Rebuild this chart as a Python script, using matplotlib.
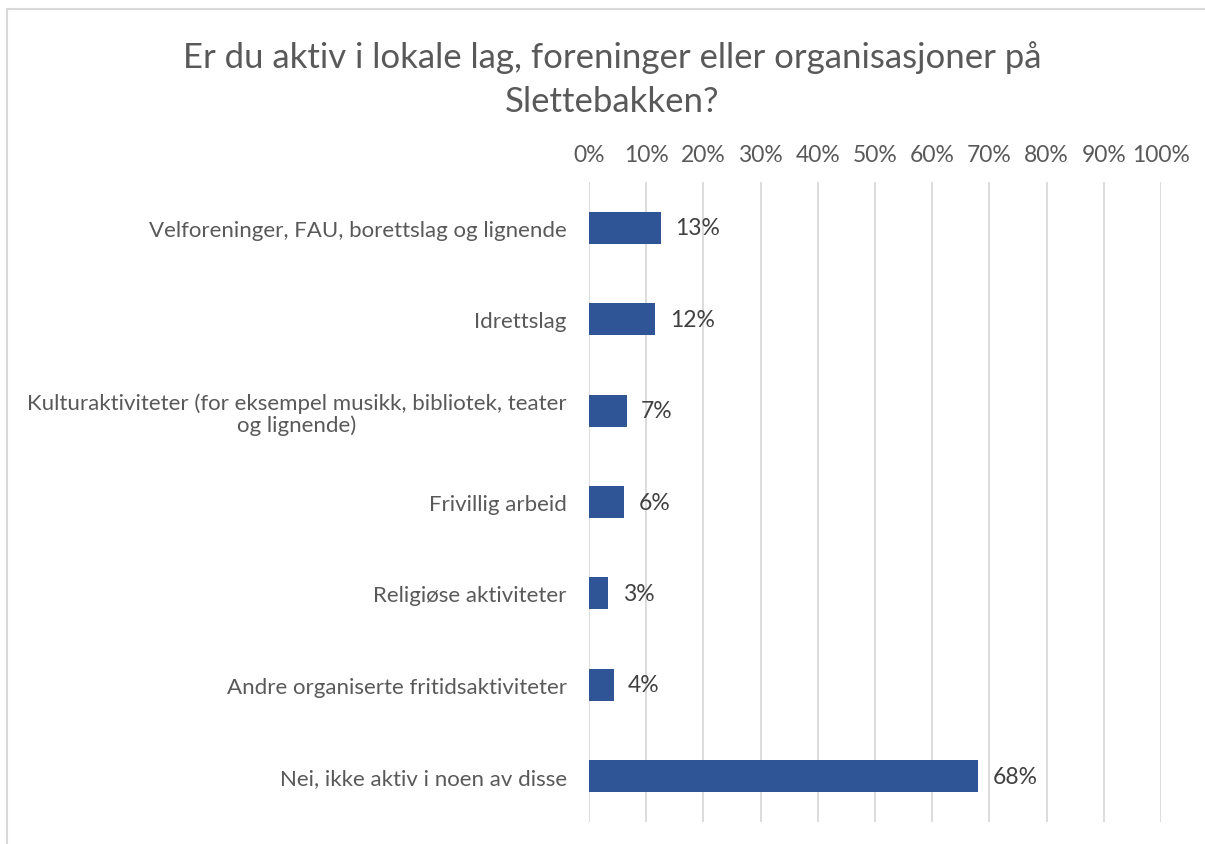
import matplotlib.pyplot as plt
from matplotlib.patches import Rectangle
from matplotlib.ticker import PercentFormatter

plt.rcParams['font.family'] = ['Lato', 'DejaVu Sans']

# data (percent)
categories = [
    "Velforeninger, FAU, borettslag og lignende",
    "Idrettslag",
    "Kulturaktiviteter (for eksempel musikk, bibliotek, teater\nog lignende)",
    "Frivillig arbeid",
    "Religiøse aktiviteter",
    "Andre organiserte fritidsaktiviteter",
    "Nei, ikke aktiv i noen av disse",
]
values = [12.6, 11.6, 6.6, 6.2, 3.4, 4.3, 68.0]
labels = ["13%", "12%", "7%", "6%", "3%", "4%", "68%"]
ticks = list(range(0, 101, 10))

fig = plt.figure(figsize=(12.05, 8.45), dpi=100)
ax = fig.add_axes([0.4888, 0.026, 0.4747, 0.7574])

ypos = list(range(len(categories)))
ax.barh(ypos, values, height=0.35, color="#2F5597", zorder=3)
ax.set_ylim(len(categories) - 0.5, -0.5)
ax.set_xlim(0, 100)

for y, v, lab in zip(ypos, values, labels):
    ax.text(v + 2.5, y, lab, va="center", ha="left", fontsize=16.5, color="#404040")

ax.set_xticks(ticks)
ax.xaxis.set_major_formatter(PercentFormatter(decimals=0))
ax.xaxis.tick_top()
ax.tick_params(axis="x", length=0, pad=12, labelsize=16.5, labelcolor="#595959")
ax.set_yticks(ypos)
ax.set_yticklabels(categories, ha="right", multialignment="center", linespacing=1.1)
ax.tick_params(axis="y", length=0, pad=16, labelsize=16, labelcolor="#595959")
ax.grid(axis="x", color="#D9D9D9", linewidth=1.3, zorder=0)
for s in ax.spines.values():
    s.set_visible(False)

fig.text(0.508, 0.906, "Er du aktiv i lokale lag, foreninger eller organisasjoner på\nSlettebakken?",
         ha="center", va="center", fontsize=25, color="#595959", linespacing=1.45)

# chart border
fig.patches.append(Rectangle((6.5 / 1205, -0.1), 1.2, 1.1 - 9.5 / 845,
                             transform=fig.transFigure, fill=False,
                             edgecolor="#D9D9D9", linewidth=1.5))

plt.savefig("out.png", dpi=100)
